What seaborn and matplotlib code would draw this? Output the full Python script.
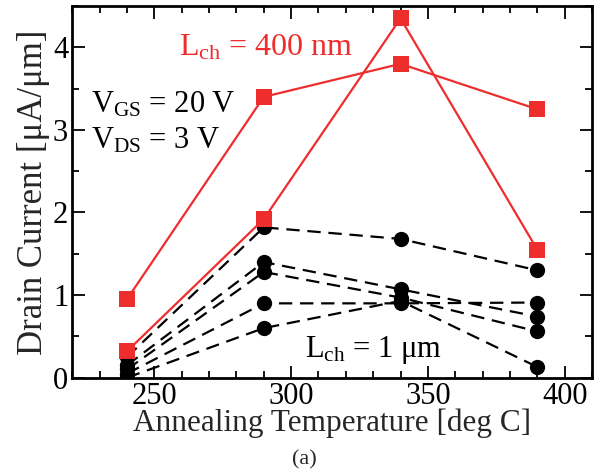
import numpy as np
import pandas as pd
import matplotlib
matplotlib.use("Agg")
import matplotlib.pyplot as plt
import seaborn as sns
from matplotlib.ticker import MultipleLocator

# Datos
temps = [240, 290, 340, 390]

# L_ch = 400 nm (rojo)
red_a = [0.95, 3.40, 3.80, 3.25]
red_b = [0.32, 1.92, 4.35, 1.55]

# L_ch = 1 um (negro, discontinuo)
blk_1 = [0.25, 1.82, 1.68, 1.30]
blk_2 = [0.15, 1.40, 1.07, 0.74]
blk_3 = [0.10, 1.28, 0.97, 0.56]
blk_4 = [0.05, 0.90, 0.90, 0.91]
blk_5 = [0.00, 0.60, 0.93, 0.13]

red = '#ee2d2d'
fs = 22

sns.set_style("ticks")
plt.rcParams['font.family'] = ['Liberation Serif', 'DejaVu Serif']
plt.rcParams['mathtext.fontset'] = 'custom'
plt.rcParams['mathtext.rm'] = 'Liberation Serif'
plt.rcParams['mathtext.it'] = 'Liberation Serif:italic'

fig = plt.figure(figsize=(5.99, 4.74), dpi=100)
ax = fig.add_axes([0.1207, 0.2032, 0.8676, 0.7841])

for s in [blk_1, blk_2, blk_3, blk_4, blk_5]:
    sns.lineplot(x=temps, y=s, ax=ax, color='black', linestyle='--',
                 dashes=False, linewidth=1.6, marker='o', markersize=11,
                 markeredgewidth=0, zorder=2)
    ax.lines[-1].set_dashes([6, 3.5])

for s in [red_a, red_b]:
    sns.lineplot(x=temps, y=s, ax=ax, color=red, linewidth=1.6,
                 marker='s', markersize=11, markeredgewidth=0, zorder=3)

ax.set_xlim(220, 410)
ax.set_ylim(0, 4.5)
ax.xaxis.set_major_locator(MultipleLocator(50))
ax.xaxis.set_minor_locator(MultipleLocator(10))
ax.yaxis.set_major_locator(MultipleLocator(1))
ax.yaxis.set_minor_locator(MultipleLocator(0.5))
ax.tick_params(which='both', direction='in', top=True, right=True,
               labelsize=fs, width=1.3, color='black', labelcolor='black')
ax.tick_params(which='major', length=9, pad=3)
ax.tick_params(which='minor', length=5)
for sp in ax.spines.values():
    sp.set_linewidth(2)
    sp.set_color('black')

ax.set_xlabel('Annealing Temperature [deg C]', fontsize=fs + 0.5, labelpad=-2)
ax.set_ylabel('Drain Current [μA/μm]', fontsize=fs + 3, labelpad=2)

ax.text(259, 4.0, r'L$_{\rm ch}$ = 400 nm', color=red, fontsize=fs + 1, va='center')
ax.text(227, 3.3, r'V$_{\rm GS}$ = 20 V', color='black', fontsize=fs, va='center')
ax.text(227, 2.87, r'V$_{\rm DS}$ = 3 V', color='black', fontsize=fs, va='center')
ax.text(305, 0.33, r'L$_{\rm ch}$ = 1 μm', color='black', fontsize=fs, va='center')

fig.text(0.508, 0.03, '(a)', ha='center', va='center', fontsize=16)

plt.savefig('out.png', dpi=100)
